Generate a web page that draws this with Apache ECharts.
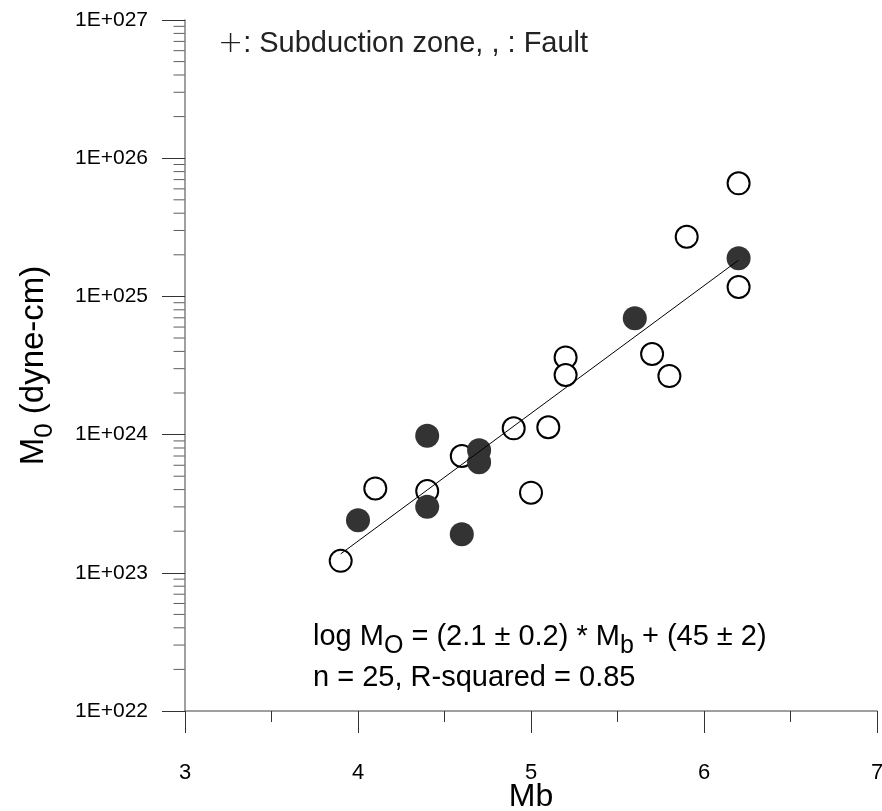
<!DOCTYPE html>
<html>
<head>
<meta charset="utf-8">
<script src="https://cdn.jsdelivr.net/npm/echarts@6/dist/echarts.min.js"></script>
<style>html,body{margin:0;padding:0;background:#fff}#c{width:882px;height:811px}</style>
</head>
<body>
<div id="c"></div>
<script>
// ---- data ----
const mbOpen = [3.9, 4.1, 4.4, 4.6, 4.9, 5.0, 5.1, 5.2, 5.2, 5.7, 5.8, 5.9, 6.2, 6.2];
const m0Open = [1.22e23, 4.08e23, 3.9e23, 7.0e23, 1.11e24, 3.8e23, 1.13e24, 3.62e24, 2.7e24, 3.83e24, 2.65e24, 2.7e25, 6.58e25, 1.17e25];
const mbFilled = [4.0, 4.4, 4.4, 4.6, 4.7, 4.7, 5.6, 6.2];
const m0Filled = [2.4e23, 9.8e23, 3.0e23, 1.9e23, 7.7e23, 6.3e23, 6.95e24, 1.89e25];
const fitMb = [3.9, 6.2];
const fitM0 = [1.37e23, 1.83e25];
const xTicks = [3, 4, 5, 6, 7];
const yTickLabels = ['1E+022', '1E+023', '1E+024', '1E+025', '1E+026', '1E+027'];
const decades = [22, 23, 24, 25, 26];
const minorMultipliers = [2, 3, 4, 5, 6, 7, 8, 9];
const legendParts = ['+', ': Subduction zone, , : Fault'];
const eqLine1 = ['log M', 'O', ' = (2.1 ± 0.2) * M', 'b', ' + (45 ± 2)'];
const eqLine2 = 'n = 25, R-squared = 0.85';

// ---- build ----
const zip = (a, b) => a.map((v, i) => [v, b[i]]);
const minorY = [];
decades.forEach(d => minorMultipliers.forEach(k => minorY.push([xTicks[0], k * Math.pow(10, d)])));

const FONT = '"Liberation Sans", Arial, sans-serif';
const chart = echarts.init(document.getElementById('c'), null, {renderer: 'canvas'});
chart.setOption({
  animation: false,
  backgroundColor: '#fff',
  grid: {left: 185, right: 5, top: 20, bottom: 100, containLabel: false, outerBoundsMode: 'none'},
  xAxis: {
    type: 'value', min: 3, max: 7, interval: 1,
    name: 'Mb', nameLocation: 'middle', nameGap: 70, nameMoveOverlap: false,
    nameTextStyle: {fontFamily: FONT, fontSize: 32, color: '#000', verticalAlign: 'top'},
    axisLine: {show: true, onZero: false, lineStyle: {color: '#808080', width: 1.5}},
    axisTick: {show: true, inside: false, length: 22, lineStyle: {color: '#333', width: 1}},
    minorTick: {show: true, splitNumber: 2, length: 11, lineStyle: {color: '#333', width: 1}},
    splitLine: {show: false}, minorSplitLine: {show: false},
    axisLabel: {fontFamily: FONT, fontSize: 22, color: '#000', margin: 51, hideOverlap: false,
      showMinLabel: true, showMaxLabel: true, formatter: v => String(v)}
  },
  yAxis: {
    type: 'log', logBase: 10, min: 1e22, max: 1e27,
    name: '{m|M}{s|0}{m| (dyne-cm)}', nameLocation: 'middle', nameGap: 130, nameRotate: 90, nameMoveOverlap: false,
    nameTextStyle: {fontFamily: FONT, fontSize: 33, color: '#000',
      rich: {
        m: {fontFamily: FONT, fontSize: 33, color: '#000', lineHeight: 38, verticalAlign: 'top'},
        s: {fontFamily: FONT, fontSize: 26, color: '#000', lineHeight: 26, padding: [15, 0, 0, 0], verticalAlign: 'top'}
      }},
    axisLine: {show: true, onZero: false, lineStyle: {color: '#808080', width: 1.5}},
    axisTick: {show: true, inside: false, length: 23, lineStyle: {color: '#333', width: 1}},
    splitLine: {show: false},
    axisLabel: {fontFamily: FONT, fontSize: 21, color: '#000', margin: 37,
      showMinLabel: true, showMaxLabel: true,
      formatter: v => yTickLabels[Math.round(Math.log10(v)) - 22] || ''}
  },
  graphic: [
    {type: 'text', left: 218, top: 29, z: 10,
      style: {
        text: '{p|' + legendParts[0] + '}{t|' + legendParts[1] + '}',
        rich: {
          p: {fontFamily: '"DejaVu Sans ExtraLight", "DejaVu Sans", sans-serif', fontWeight: 200, fontSize: 30, fill: '#222', lineHeight: 34},
          t: {fontFamily: FONT, fontSize: 29, fill: '#222', lineHeight: 34}
        }
      }},
    {type: 'text', left: 313, top: 622, z: 10,
      style: {
        text: '{m|' + eqLine1[0] + '}{s|' + eqLine1[1] + '}{m|' + eqLine1[2] + '}{s|' + eqLine1[3] + '}{m|' + eqLine1[4] + '}',
        rich: {
          m: {fontFamily: FONT, fontSize: 29, fill: '#000', lineHeight: 34, verticalAlign: 'top'},
          s: {fontFamily: FONT, fontSize: 25, fill: '#000', lineHeight: 25, padding: [12, 0, 0, 0], verticalAlign: 'top'}
        }
      }},
    {type: 'text', left: 313, top: 663, z: 10,
      style: {text: eqLine2, fontFamily: FONT, fontSize: 29, fill: '#000'}}
  ],
  series: [
    {
      type: 'scatter', name: 'minor', data: minorY, clip: false, silent: true,
      symbol: 'rect', symbolSize: [11, 1], symbolOffset: [-6, 0],
      itemStyle: {color: '#333'}, z: 1
    },
    {
      type: 'scatter', name: 'Fault', data: zip(mbOpen, m0Open),
      symbol: 'circle', symbolSize: 22,
      itemStyle: {color: '#fff', borderColor: '#000', borderWidth: 2, opacity: 1}, z: 2
    },
    {
      type: 'scatter', name: 'Subduction zone', data: zip(mbFilled, m0Filled),
      symbol: 'circle', symbolSize: 24,
      itemStyle: {color: '#333', opacity: 1}, z: 3
    },
    {
      type: 'line', name: 'fit', data: zip(fitMb, fitM0), showSymbol: false, symbol: 'none',
      lineStyle: {color: '#000', width: 1}, z: 4
    }
  ]
});
</script>
</body>
</html>
